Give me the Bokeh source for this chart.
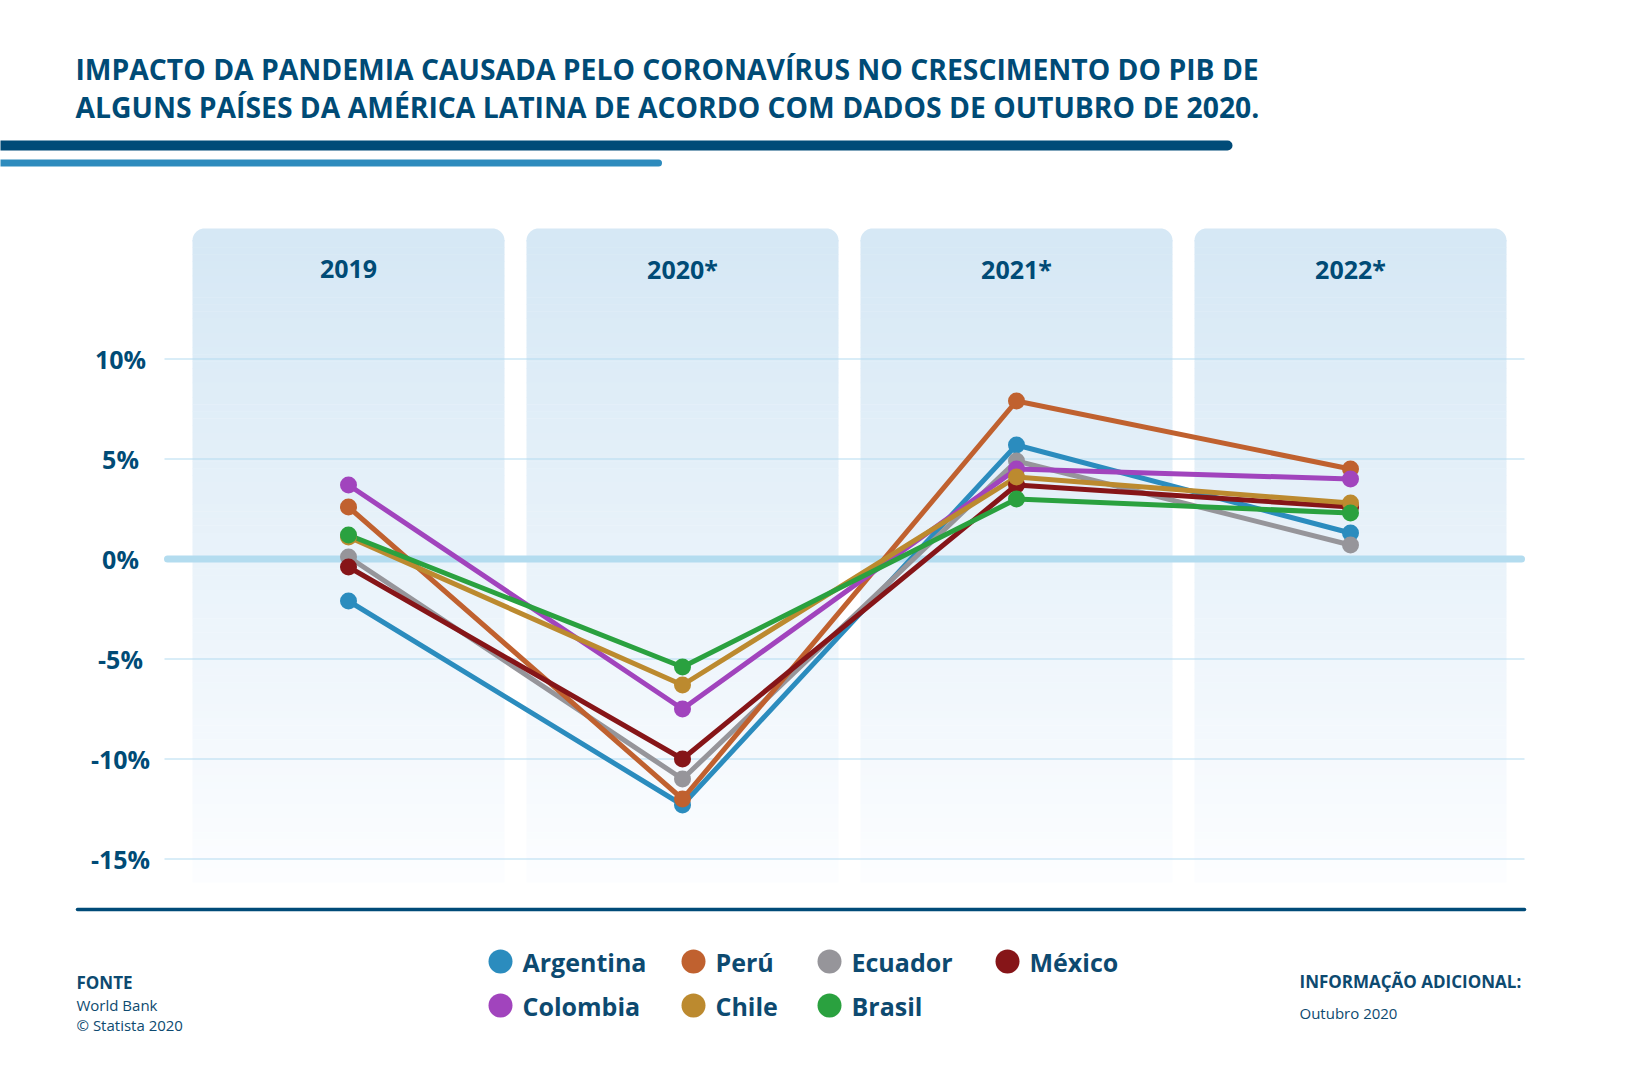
import numpy as np
from bokeh.plotting import figure
from bokeh.models import Range1d
from bokeh.core.properties import value
from bokeh.embed import file_html
from bokeh.resources import INLINE

# ---------------- data ----------------
years = ["2019", "2020*", "2021*", "2022*"]
countries = ["Argentina", "Perú", "Ecuador", "México", "Colombia", "Chile", "Brasil"]
argentina = [-2.1, -12.3, 5.7, 1.3]
peru = [2.6, -12.0, 7.9, 4.5]
ecuador = [0.1, -11.0, 4.9, 0.7]
mexico = [-0.4, -10.0, 3.7, 2.6]
colombia = [3.7, -7.5, 4.5, 4.0]
chile = [1.1, -6.3, 4.1, 2.8]
brasil = [1.2, -5.4, 3.0, 2.3]
tick_values = [-15, -10, -5, 0, 5, 10]
tick_labels = ["-15%", "-10%", "-5%", "0%", "5%", "10%"]

title_lines = ["IMPACTO DA PANDEMIA CAUSADA PELO CORONAVÍRUS NO CRESCIMENTO DO PIB DE",
               "ALGUNS PAÍSES DA AMÉRICA LATINA DE ACORDO COM DADOS DE OUTUBRO DE 2020."]

colors = {
    "Argentina": "#2b8cbe",
    "Perú": "#c0612f",
    "Ecuador": "#96959a",
    "México": "#861518",
    "Colombia": "#a144bd",
    "Chile": "#bc8a2f",
    "Brasil": "#2aa13f",
}
series = {
    "Argentina": argentina,
    "Perú": peru,
    "Ecuador": ecuador,
    "México": mexico,
    "Colombia": colombia,
    "Chile": chile,
    "Brasil": brasil,
}
draw_order = ["Argentina", "Ecuador", "Perú", "México", "Colombia", "Chile", "Brasil"]

# ---------------- layout ----------------
W, H = 1612, 1064
OX = 0
X0_PAGE, DX = 348.0, 334.0   # px of first category, px per category
Y0_PAGE, DY = 558.5, 20.0    # px of 0 %, px per 1 %

def px_x(page_x):
    return (page_x - X0_PAGE) / DX

def px_y(page_y):
    return (Y0_PAGE - page_y) / DY

DARK = "#004b76"
TEXT = "#0d4a70"

p = figure(width=W, height=H, output_backend="svg", toolbar_location=None,
           x_range=Range1d(px_x(OX), px_x(OX + W)),
           y_range=Range1d(px_y(OX + H), px_y(OX)),
           x_axis_location=None, y_axis_location=None,
           min_border=0, outline_line_color=None,
           background_fill_color="white", border_fill_color="white")
p.xgrid.visible = False
p.ygrid.visible = False

xs = list(range(len(years)))

# ---------------- panels (gradient columns) ----------------
half_w = 156 / DX
top_pg, bot_pg, rad = 228.0, 882.0, 12.0
c_top = np.array([214, 232, 245])
c_bot = np.array([252, 253, 255])
n_bands = 90
edges = np.linspace(top_pg + rad, bot_pg, n_bands + 1)
for i in xs:
    l, r = i - half_w, i + half_w
    rx, ry = rad / DX, rad / DY
    ang1 = np.linspace(np.pi, np.pi / 2, 12)
    ang2 = np.linspace(np.pi / 2, 0, 12)
    cy = px_y(top_pg + rad)
    px_ = list(l + rx + rx * np.cos(ang1)) + list(r - rx + rx * np.cos(ang2))
    py_ = list(cy + ry * np.sin(ang1)) + list(cy + ry * np.sin(ang2))
    px_ += [r, l]
    py_ += [px_y(top_pg + rad + 1), px_y(top_pg + rad + 1)]
    p.patch(px_, py_, fill_color="#d6e8f5", line_color=None)
    for k in range(n_bands):
        t = k / (n_bands - 1)
        c = c_top + (c_bot - c_top) * t
        col = "#%02x%02x%02x" % tuple(int(round(v)) for v in c)
        p.quad(left=l, right=r, top=px_y(edges[k]) + 0.02, bottom=px_y(edges[k + 1]),
               fill_color=col, line_color=None)

# ---------------- grid ----------------
gx0, gx1 = px_x(164), px_x(1524)
other = [v for v in tick_values if v != 0]
p.segment(x0=[gx0] * len(other), x1=[gx1] * len(other), y0=other, y1=other,
          line_color="#b3dbf0", line_width=1)
p.segment(x0=[gx0 + 3 / DX], x1=[gx1 - 3 / DX], y0=[0], y1=[0],
          line_color="#b3dcef", line_width=7, line_cap="round")

# y tick labels
p.text(x=[px_x(120)] * len(tick_values), y=tick_values, text=tick_labels,
       text_font=value("Open Sans"), text_font_style="bold", text_font_size="25px",
       text_color=DARK, text_align="center", text_baseline="middle")

# category labels
p.text(x=xs, y=[px_y(268)] * len(xs), text=years,
       text_font=value("Open Sans"), text_font_style="bold", text_font_size="25px",
       text_color=DARK, text_align="center", text_baseline="middle")

# ---------------- series ----------------
for name in draw_order:
    p.line(xs, series[name], line_color=colors[name], line_width=5,
           line_join="round", line_cap="round")
for name in draw_order:
    p.scatter(xs, series[name], size=17, fill_color=colors[name], line_color=None)

# ---------------- title & bars ----------------
p.text(x=[px_x(75), px_x(75)], y=[px_y(68.5), px_y(106)], text=title_lines,
       text_font=value("Open Sans"), text_font_style="bold", text_font_size="28.3px",
       text_color=DARK, text_align="left", text_baseline="middle")
p.segment(x0=[px_x(0)], x1=[px_x(1227)], y0=[px_y(145)], y1=[px_y(145)],
          line_color="#004b78", line_width=10, line_cap="round")
p.segment(x0=[px_x(0)], x1=[px_x(658)], y0=[px_y(162.5)], y1=[px_y(162.5)],
          line_color="#2e8bbd", line_width=7, line_cap="round")

# bottom rule
p.segment(x0=[px_x(77)], x1=[px_x(1524)], y0=[px_y(909)], y1=[px_y(909)],
          line_color="#004b78", line_width=3.5, line_cap="round")

# ---------------- legend ----------------
leg_cols_pg = [500, 693, 829, 1007]
leg_rows_pg = [961, 1005]
lx, ly, lt, lc = [], [], [], []
for k, name in enumerate(countries):
    row, col = divmod(k, 4)
    lx.append(px_x(leg_cols_pg[col]))
    ly.append(px_y(leg_rows_pg[row]))
    lt.append(name)
    lc.append(colors[name])
p.scatter(lx, ly, size=24, fill_color=lc, line_color=None)
p.text(x=[v + 22 / DX for v in lx], y=ly, text=lt,
       text_font=value("Open Sans"), text_font_style="bold", text_font_size="25px",
       text_color=TEXT, text_align="left", text_baseline="middle")

# ---------------- footer ----------------
p.text(x=[px_x(76)], y=[px_y(982)], text=["FONTE"],
       text_font=value("Open Sans"), text_font_style="bold", text_font_size="17px",
       text_color=TEXT, text_align="left", text_baseline="middle")
p.text(x=[px_x(76), px_x(76)], y=[px_y(1004), px_y(1024)],
       text=["World Bank", "© Statista 2020"],
       text_font=value("Open Sans"), text_font_size="15px",
       text_color=TEXT, text_align="left", text_baseline="middle")
p.text(x=[px_x(1299)], y=[px_y(981)], text=["INFORMAÇÃO ADICIONAL:"],
       text_font=value("Open Sans"), text_font_style="bold", text_font_size="17px",
       text_color=TEXT, text_align="left", text_baseline="middle")
p.text(x=[px_x(1299)], y=[px_y(1012)], text=["Outubro 2020"],
       text_font=value("Open Sans"), text_font_size="15px",
       text_color=TEXT, text_align="left", text_baseline="middle")

open("out.html", "w").write(file_html(p, INLINE))
